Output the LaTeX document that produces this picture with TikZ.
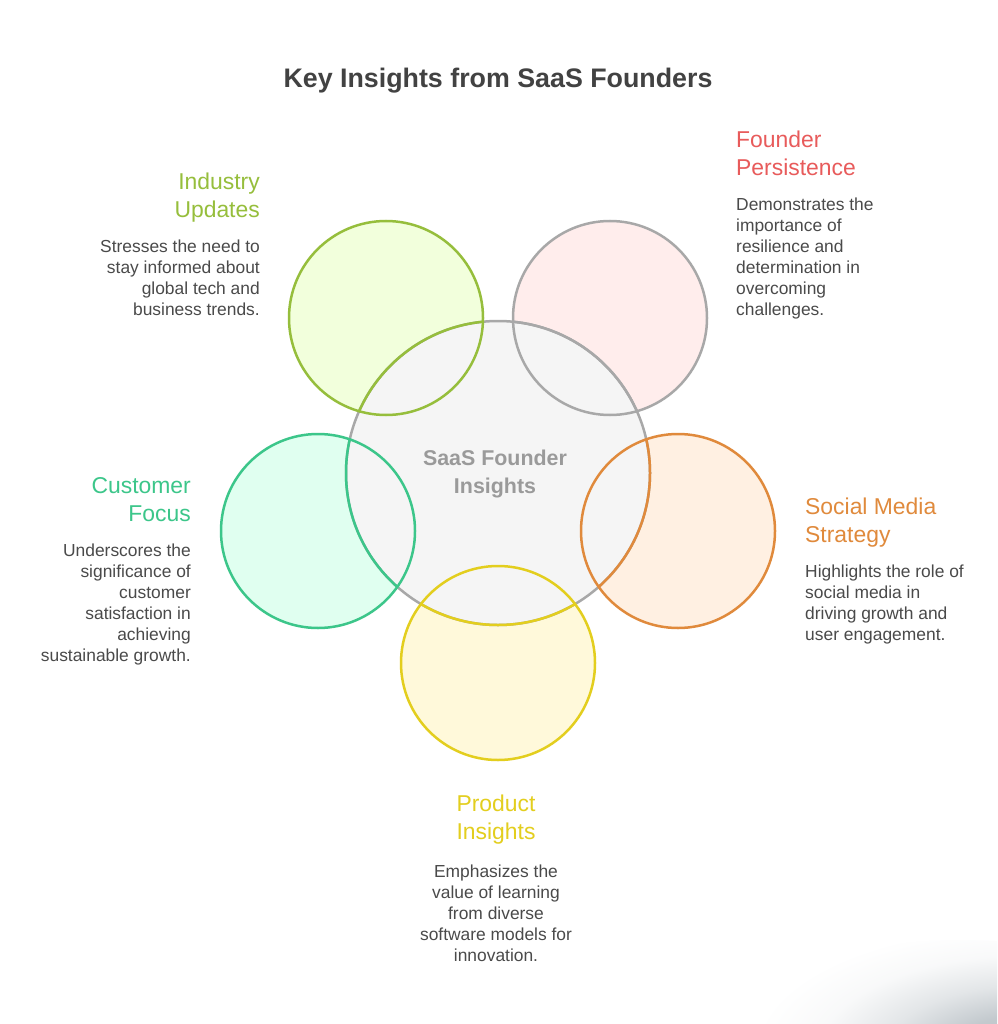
\documentclass[tikz,border=0pt]{standalone}
\usepackage{fontspec}
\setmainfont{Liberation Sans}
\definecolor{inkbody}{HTML}{4A4A4A}
\definecolor{inktitle}{HTML}{424242}
\definecolor{inkhub}{HTML}{9A9A9A}
\definecolor{ringgray}{HTML}{A8A8A8}
\definecolor{hubfill}{HTML}{F5F5F5}
\definecolor{ringgreen}{HTML}{96BE3C}
\definecolor{fillgreen}{HTML}{F2FFDC}
\definecolor{ringteal}{HTML}{3CC68A}
\definecolor{fillteal}{HTML}{E0FFF0}
\definecolor{ringorange}{HTML}{E08A3C}
\definecolor{fillorange}{HTML}{FFF0E2}
\definecolor{ringyellow}{HTML}{E3CE1E}
\definecolor{fillyellow}{HTML}{FFF9DA}
\definecolor{fillpink}{HTML}{FFEDEC}
\definecolor{inkred}{HTML}{E85B5B}
\definecolor{smudge}{HTML}{BCC3C8}
\pgfdeclareradialshading{smudgeglow}{\pgfpointorigin}{color(0bp)=(smudge); color(7bp)=(smudge!90!white); color(13bp)=(smudge!42!white); color(19bp)=(smudge!10!white); color(25bp)=(white); color(50bp)=(white)}
\tikzset{
	petal/.style={circle,minimum size=194pt,inner sep=0pt,outer sep=0pt,line width=2.5pt},
	hub/.style={circle,minimum size=304pt,inner sep=0pt,outer sep=0pt,line width=2.5pt,draw=ringgray,fill=hubfill},
	head/.style={inner sep=0pt,font=\fontsize{22.9}{28}\selectfont},
	desc/.style={inner sep=0pt,text=inkbody,font=\fontsize{17.4}{21}\selectfont}
}
\begin{document}
\begin{tikzpicture}[x=1pt,y=-1pt]
	\useasboundingbox (0,0) rectangle (997,1024);
	\fill[white] (0,0) rectangle (997,1024);
	% smudge in the corner
	\begin{scope}
		\clip (0,0) rectangle (997,1024);
		\shade[shading=smudgeglow,rotate around={-8:(1030,1060)}] (1030,1060) ellipse (270pt and 115pt);
	\end{scope}

	\node[font=\fontsize{26.8}{34}\bfseries\selectfont,text=inktitle] (title) at (498,81) {Key Insights from SaaS Founders};

	\node[petal,fill=fillgreen] (updates) at (386,318) {};
	\node[petal,fill=fillpink] (persist) at (610,318) {};
	\node[petal,fill=fillteal] (customer) at (318,531) {};
	\node[petal,fill=fillorange] (social) at (678,531) {};
	\node[petal,fill=fillyellow] (product) at (498,663) {};
	\node[hub] (core) at (498,473) {};
	\node[font=\fontsize{21.4}{28}\bfseries\selectfont,text=inkhub,align=center] (corelabel) at (495,474) {SaaS Founder\\Insights};

	% rings go over the hub, and each takes over the hub's arc inside it
	\foreach \petalname/\ringcol in {updates/ringgreen,persist/ringgray,customer/ringteal,social/ringorange,product/ringyellow}{
		\draw[\ringcol,line width=2.5pt] (\petalname.center) circle (97pt);
		\begin{scope}
			\clip (\petalname.center) circle (98pt);
			\draw[\ringcol,line width=2.5pt] (core.center) circle (152pt);
		\end{scope}
	}

	\node[head,text=ringgreen,anchor=north east,align=right] (updateshead) at (260,173) {Industry\\Updates};
	\node[desc,anchor=north east,align=right] (updatesdesc) at (260,240) {Stresses the need to\\stay informed about\\global tech and\\business trends.};

	\node[head,text=inkred,anchor=north west,align=left] (persisthead) at (736,131) {Founder\\Persistence};
	\node[desc,anchor=north west,align=left] (persistdesc) at (736,198) {Demonstrates the\\importance of\\resilience and\\determination in\\overcoming\\challenges.};

	\node[head,text=ringteal,anchor=north east,align=right] (customerhead) at (191,477) {Customer\\Focus};
	\node[desc,anchor=north east,align=right] (customerdesc) at (191,544) {Underscores the\\significance of\\customer\\satisfaction in\\achieving\\sustainable growth.};

	\node[head,text=ringorange,anchor=north west,align=left] (socialhead) at (805,498) {Social Media\\Strategy};
	\node[desc,anchor=north west,align=left] (socialdesc) at (805,565) {Highlights the role of\\social media in\\driving growth and\\user engagement.};

	\node[head,text=ringyellow,anchor=north,align=center] (producthead) at (496,795) {Product\\Insights};
	\node[desc,anchor=north,align=center] (productdesc) at (496,865) {Emphasizes the\\value of learning\\from diverse\\software models for\\innovation.};
\end{tikzpicture}
\end{document}
